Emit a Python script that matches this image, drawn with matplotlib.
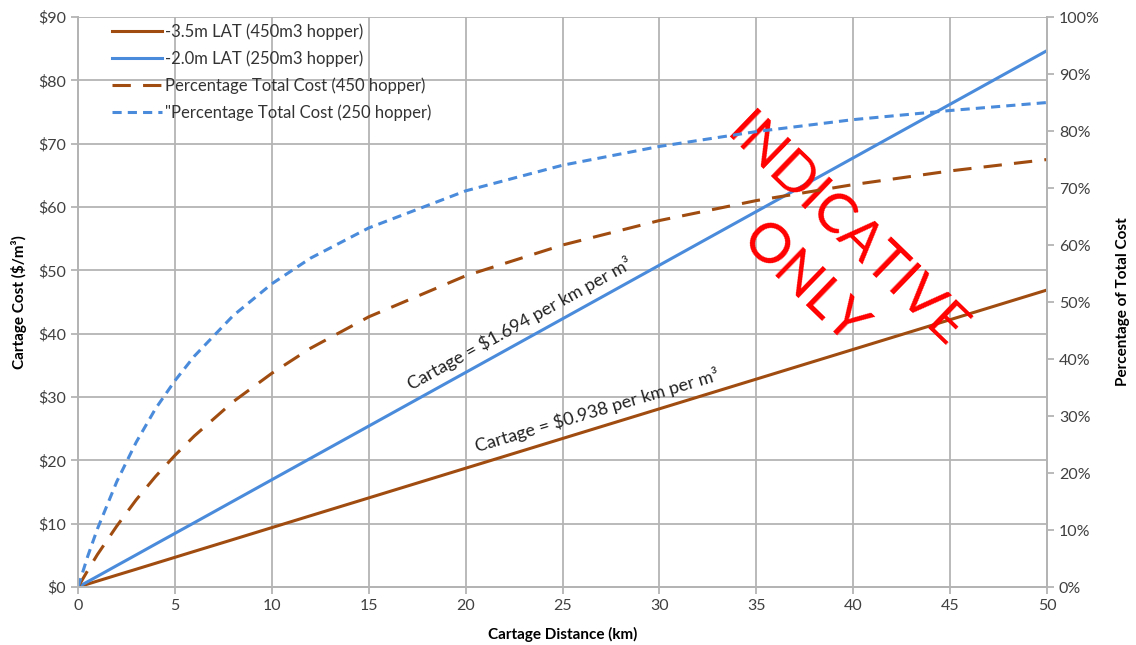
import matplotlib.pyplot as plt
from matplotlib.ticker import FuncFormatter

plt.rcParams['font.family'] = ['Lato', 'DejaVu Sans']

# cartage distance (km)
distance = [0, 0.5, 1, 2, 3, 4, 5, 6, 8, 10, 12, 15, 20, 25, 30, 35, 40, 45, 50]

# cartage cost $/m3 (straight lines)
cost_450 = [0, 0.47, 0.94, 1.88, 2.81, 3.75, 4.69, 5.63, 7.5, 9.38, 11.26, 14.07,
            18.76, 23.45, 28.14, 32.83, 37.52, 42.21, 46.9]
cost_250 = [0, 0.85, 1.69, 3.39, 5.08, 6.78, 8.47, 10.16, 13.55, 16.94, 20.33, 25.41,
            33.88, 42.35, 50.82, 59.29, 67.76, 76.23, 84.7]

# percentage of total cost
pct_450 = [0, 2.9, 5.7, 10.7, 15.3, 19.4, 23.1, 26.5, 32.5, 37.5, 41.9, 47.4,
           54.6, 60.0, 64.3, 67.8, 70.6, 73.0, 75.0]
pct_250 = [0, 5.4, 10.2, 18.5, 25.4, 31.3, 36.2, 40.5, 47.6, 53.2, 57.7, 63.0,
           69.5, 74.0, 77.3, 79.9, 82.0, 83.6, 85.0]

brown = '#A04C10'
blue = '#4A8BDB'
grid_c = '#B4B4B4'
txt_c = '#404040'

fig = plt.figure(figsize=(11.36, 6.45), dpi=100)
ax = fig.add_axes([0.0687, 0.0899, 0.853, 0.8837])
ax2 = ax.twinx()

l1, = ax.plot(distance, cost_450, color=brown, lw=2.2, label='-3.5m LAT (450m3 hopper)')
l2, = ax.plot(distance, cost_250, color=blue, lw=2.2, label='-2.0m LAT (250m3 hopper)')
l3, = ax2.plot(distance, pct_450, color=brown, lw=2.2, dashes=(6, 4),
               label='Percentage Total Cost (450 hopper)')
l4, = ax2.plot(distance, pct_250, color=blue, lw=2.2, dashes=(3, 2),
               label='"Percentage Total Cost (250 hopper)')

ax.set_xlim(0, 50)
ax.set_ylim(0, 90)
ax2.set_ylim(0, 100)
ax.set_xticks(range(0, 51, 5))
ax.set_yticks(range(0, 91, 10))
ax2.set_yticks(range(0, 101, 10))
ax.yaxis.set_major_formatter(FuncFormatter(lambda v, p: '$%d' % v))
ax2.yaxis.set_major_formatter(FuncFormatter(lambda v, p: '%d%%' % v))

ax.grid(True, color=grid_c, lw=1.3)
ax.set_axisbelow(True)
for a in (ax, ax2):
    for s in a.spines.values():
        s.set_color(grid_c)
        s.set_linewidth(1.3)
    a.spines['top'].set_visible(False)
    a.tick_params(colors=grid_c, labelcolor=txt_c, labelsize=11.5, length=5, width=1.3)

ax.set_xlabel('Cartage Distance (km)', fontsize=11, fontweight='bold', labelpad=10)
ax.set_ylabel('Cartage Cost ($/m³)', fontsize=11, fontweight='bold', labelpad=8)
ax2.set_ylabel('Percentage of Total Cost', fontsize=11, fontweight='bold', labelpad=12)

ax.legend(handles=[l1, l2, l3, l4], loc='upper left', bbox_to_anchor=(0.02, 1.015),
          frameon=False, fontsize=12, handlelength=3.0, handletextpad=0.15,
          labelspacing=0.62, labelcolor='#333333')

ax.text(22.8, 41.6, 'Cartage = $1.694 per km per m³', rotation=29, fontsize=13,
        color='#222222', ha='center', va='center', rotation_mode='anchor')
ax.text(26.8, 27.9, 'Cartage = $0.938 per km per m³', rotation=16.5, fontsize=13,
        color='#222222', ha='center', va='center', rotation_mode='anchor')

wm_font = ['Liberation Sans Narrow', 'Lato', 'DejaVu Sans']
ax.text(39.6, 56.0, 'INDICATIVE', rotation=-44, fontsize=40, color='#FF0000',
        ha='center', va='center', rotation_mode='anchor', family=wm_font)
ax.text(37.4, 47.8, 'ONLY', rotation=-44, fontsize=40, color='#FF0000',
        ha='center', va='center', rotation_mode='anchor', family=wm_font)

fig.savefig('out.png', dpi=100)
